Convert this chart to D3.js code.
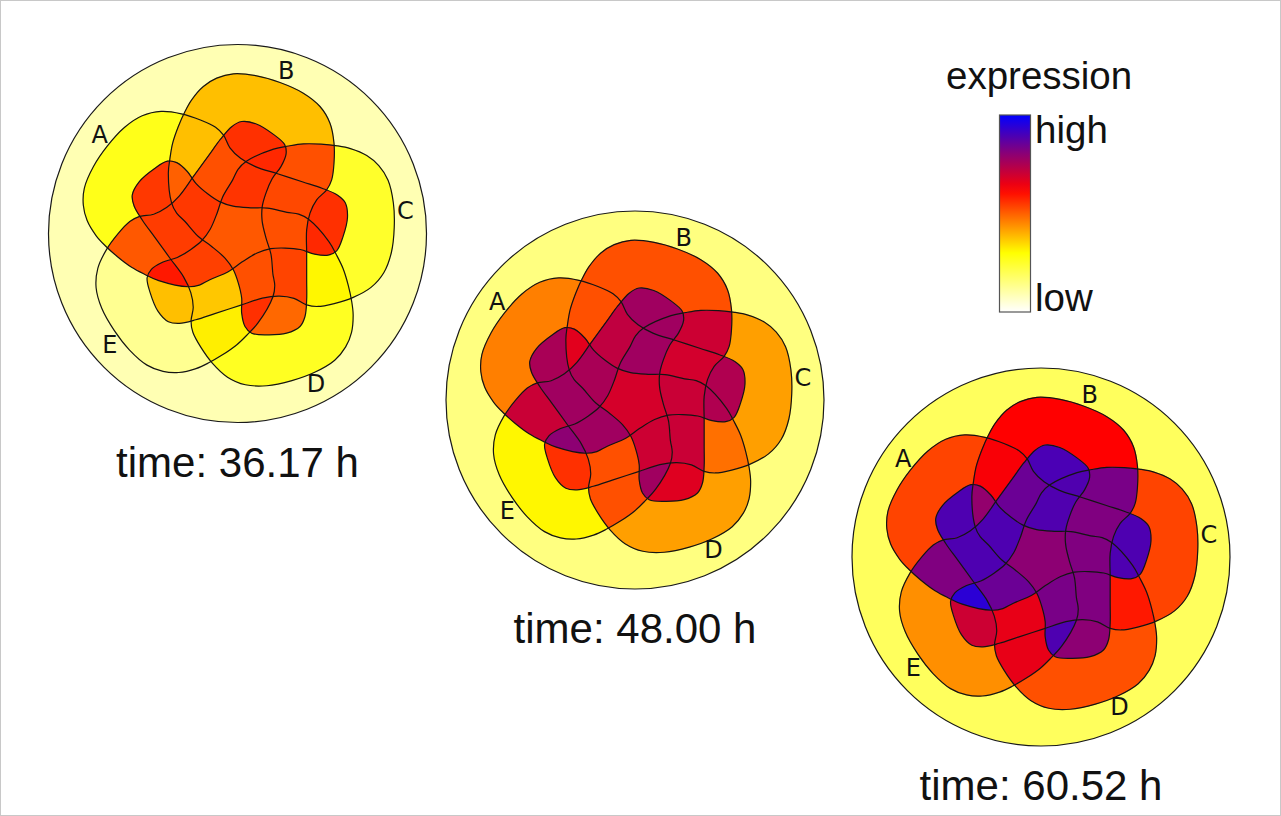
<!DOCTYPE html>
<html><head><meta charset="utf-8">
<script src="https://cdn.jsdelivr.net/npm/d3@7"></script>
<style>body{margin:0;background:#fff}svg{display:block}</style>
</head><body><svg id="chart" width="1281" height="816"></svg>
<script>
const setNames = ["A","B","C","D","E"];
// regions, in the order of the value arrays (index = bitmask A=1,B=2,C=4,D=8,E=16); "" = outside all sets
const regionNames = ["","A","B","AB","C","AC","BC","ABC","D","AD","BD","ABD","CD","ACD","BCD","ABCD","E","AE","BE","ABE","CE","ACE","BCE","ABCE","DE","ADE","BDE","ABDE","CDE","ACDE","BCDE","ABCDE"];
const timeLabels = ["time: 36.17 h","time: 48.00 h","time: 60.52 h"];
// expression level per region (0 = low, 1 = high)
const expr36 = [0.09,0.27,0.38,0.38,0.25,0.56,0.52,0.53,0.26,0.55,0.49,0.50,0.31,0.57,0.535,0.52,0.13,0.51,0.56,0.52,0.38,0.59,0.57,0.555,0.32,0.545,0.56,0.55,0.37,0.54,0.52,0.51];
const expr48 = [0.15,0.46,0.52,0.52,0.42,0.745,0.70,0.69,0.42,0.755,0.67,0.665,0.48,0.745,0.705,0.705,0.31,0.705,0.77,0.72,0.56,0.80,0.77,0.77,0.52,0.77,0.77,0.755,0.52,0.77,0.70,0.686];
const expr60 = [0.19,0.535,0.62,0.63,0.535,0.89,0.83,0.82,0.52,0.89,0.80,0.79,0.59,0.89,0.82,0.82,0.44,0.82,0.895,0.85,0.70,0.94,0.887,0.887,0.656,0.89,0.89,0.89,0.656,0.85,0.83,0.80];
const legendTitle = "expression", legendHigh = "high", legendLow = "low";
// outline of set B (shape units: enclosing circle radius = 567, origin = diagram centre); other sets are rotations by 72°
const shapeB = [[-157.5,-366],[-137.5,-401],[-102.5,-441],[-62.5,-466],[-12.5,-479],[57.5,-473],[127.5,-453],[197.5,-421],[247.5,-381],[277.5,-331],[289.5,-271],[289.5,-211],[282.5,-161],[267.5,-131],[237.5,-101],[217.5,-61],[207.5,-11],[207.5,59],[207.5,139],[207.5,199],[202.5,249],[187.5,279],[147.5,299],[87.5,304],[42.5,299],[22.5,279],[12.5,239],[12.5,194],[2.5,149],[-12.5,109],[-37.5,74],[-77.5,39],[-117.5,9],[-157.5,-36],[-182.5,-61],[-197.5,-91],[-207.5,-181],[-202.5,-226],[-194.5,-271],[-177.5,-321]];
const labelAngles = [-144.5,-73.3,-7.6,62.4,138.9];

const series=[expr36,expr48,expr60];
const centers=[[237.5,233.5],[635,400],[1041,557]];
const R=189;
const svg=d3.select("#chart");
const defs=svg.append("defs");
const color=d3.scaleLinear().domain([0,0.3,0.62,0.82,1]).range(["#ffffff","#ffff00","#ff0000","#800080","#0000ff"]);
const line=d3.line().curve(d3.curveCatmullRomClosed.alpha(0.5));
function setPoints(k){const th=(k-1)*72*Math.PI/180,c=Math.cos(th),s=Math.sin(th);return shapeB.map(([x,y])=>[x*c-y*s,x*s+y*c]);}
const bits=m=>d3.range(5).filter(k=>(m>>k)&1);
const masks=d3.range(1,32).sort((a,b)=>bits(a).length-bits(b).length||a-b);

svg.append("rect").attr("x",0.5).attr("y",0.5).attr("width",1280).attr("height",815).attr("fill","#fff").attr("stroke","#c8c8c8");

centers.forEach(([cx,cy],di)=>{
  const vals=series[di];
  const x=d3.scaleLinear().domain([-567,567]).range([cx-R,cx+R]);
  const y=d3.scaleLinear().domain([-567,567]).range([cy-R,cy+R]);
  const paths=setNames.map((n,k)=>line(setPoints(k).map(p=>[x(p[0]),y(p[1])])));
  paths.forEach((d,k)=>defs.append("clipPath").attr("id",`c${di}_${k}`).append("path").attr("d",d));
  const g=svg.append("g");
  g.append("circle").attr("cx",x(0)).attr("cy",y(0)).attr("r",x(567)-x(0)).attr("fill",color(vals[0])).attr("stroke","#1a1a1a").attr("stroke-width",1.2);
  masks.forEach(m=>{const ks=bits(m);let p=g;ks.slice(0,-1).forEach(k=>{p=p.append("g").attr("clip-path",`url(#c${di}_${k})`);});
    p.append("path").attr("d",paths[ks[ks.length-1]]).attr("fill",color(vals[m])).attr("stroke",color(vals[m])).attr("stroke-width",0.6);});
  paths.forEach(d=>g.append("path").attr("d",d).attr("fill","none").attr("stroke","#141414").attr("stroke-width",1.2));
  setNames.forEach((n,k)=>{const a=labelAngles[k]*Math.PI/180;g.append("text").attr("x",x(508*Math.cos(a))).attr("y",y(508*Math.sin(a))).attr("text-anchor","middle").attr("dominant-baseline","central").attr("font-family","DejaVu Sans").attr("font-size",24).attr("fill","#111").text(n);});
  g.append("text").attr("x",x(0)).attr("y",y(0)+243).attr("text-anchor","middle").attr("font-family","Liberation Sans").attr("font-size",42).attr("fill","#111").text(timeLabels[di]);
});

// legend
const lg=svg.append("g");
const grad=defs.append("linearGradient").attr("id","lgrad").attr("x1",0).attr("y1",1).attr("x2",0).attr("y2",0);
d3.range(0,1.0001,0.05).forEach(t=>grad.append("stop").attr("offset",t).attr("stop-color",color(t)));
const ly=d3.scaleLinear().domain([0,1]).range([312,115]);
lg.append("rect").attr("x",999.5).attr("y",ly(1)).attr("width",31).attr("height",ly(0)-ly(1)).attr("fill","url(#lgrad)").attr("stroke","#555").attr("stroke-width",1.2);
lg.append("text").attr("x",946).attr("y",89).attr("font-family","Liberation Sans").attr("font-size",38.5).attr("fill","#111").text(legendTitle);
lg.append("text").attr("x",1035).attr("y",ly(1)+28).attr("font-family","Liberation Sans").attr("font-size",38.5).attr("fill","#111").text(legendHigh);
lg.append("text").attr("x",1035).attr("y",ly(0)-1).attr("font-family","Liberation Sans").attr("font-size",38.5).attr("fill","#111").text(legendLow);
</script></body></html>
